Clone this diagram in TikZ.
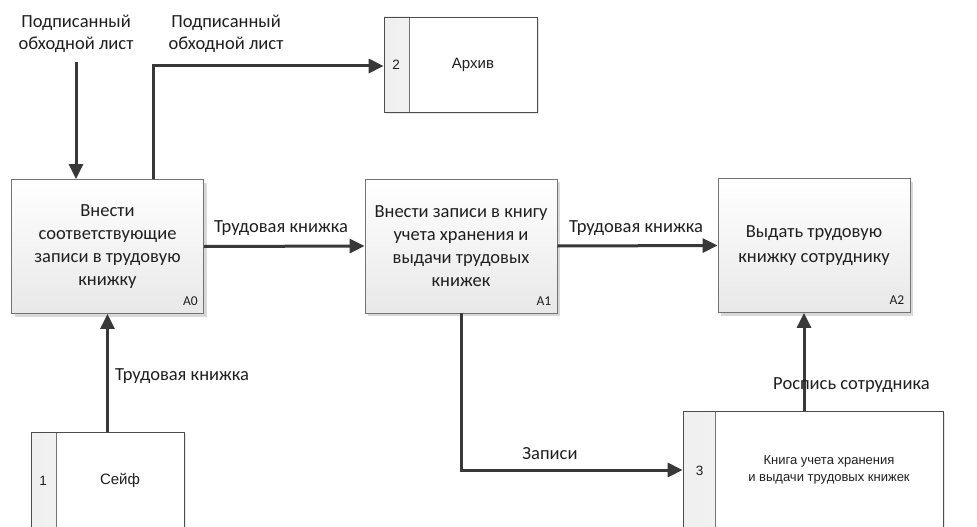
\documentclass[tikz,border=0pt]{standalone}
\usepackage{fontspec}
\setmainfont{Carlito}
\newfontfamily\arialf{Liberation Sans}
\usetikzlibrary{arrows.meta,shadows,calc}
\tikzset{
  tabw/.store in=\tabw, tabw=25pt,
  proc/.style={draw=black!55, line width=0.8pt, top color=white, bottom color=black!9,
    minimum width=192pt, minimum height=134pt, inner sep=0pt, align=center,
    font=\fontsize{18.5}{23}\selectfont, text=black!88,
    drop shadow={shadow xshift=3pt, shadow yshift=-3pt, fill=black!30, opacity=0.5}},
  storebox/.style={draw=black!70, line width=0.7pt, fill=white, inner sep=0pt,
    path picture={
      \shade[left color=black!6, right color=black!2]
        (path picture bounding box.north west) rectangle ([xshift=\tabw]path picture bounding box.south west);
      \draw[black!55, line width=0.7pt] ([xshift=\tabw]path picture bounding box.north west) -- ([xshift=\tabw]path picture bounding box.south west);},
    drop shadow={shadow xshift=2pt, shadow yshift=-2pt, fill=black!25, opacity=0.4}},
  idlab/.style={font=\fontsize{13.5}{13.5}\selectfont, text=black!88, inner sep=0pt},
  numlab/.style={font=\arialf\fontsize{13.5}{13.5}\selectfont, text=black!88, inner sep=0pt},
  stxt/.style={font=\arialf\fontsize{15}{18}\selectfont, text=black!88, inner sep=0pt, align=center},
  stxtsm/.style={font=\arialf\fontsize{13}{17}\selectfont, text=black!88, inner sep=0pt, align=center},
  lab/.style={font=\fontsize{18.5}{22}\selectfont, text=black!88, inner sep=0pt, align=center},
  arr/.style={draw=black!78, line width=3pt, -{Triangle[length=15pt,width=14pt]}},
}
\begin{document}
\begin{tikzpicture}[x=1pt,y=-1pt]
\fill[white] (0,0) rectangle (977,527);
\useasboundingbox (0,0) rectangle (977,527);

% process boxes
\node[proc] (a0) at (107.5,246.5) {Внести\\соответствующие\\записи в трудовую\\книжку};
\node[proc] (a1) at (461,246) {Внести записи в книгу\\учета хранения и\\выдачи трудовых\\книжек};
\node[proc, font=\fontsize{18.5}{25}\selectfont] (a2) at (814,245.5) {Выдать трудовую\\книжку сотруднику};
\node[idlab, anchor=south east] (a0id) at ($(a0.south east)+(-6,-8)$) {A0};
\node[idlab, anchor=south east] (a1id) at ($(a1.south east)+(-6,-8)$) {A1};
\node[idlab, anchor=south east] (a2id) at ($(a2.south east)+(-6,-8)$) {A2};

% stores
\node[storebox, tabw=25pt, minimum width=153pt, minimum height=95pt] (s2) at (460.5,64.5) {};
\node[numlab] (s2n) at ($(s2.west)+(12.5,0.5)$) {2};
\node[stxt] (s2t) at ($(s2.center)+(12.5,0)$) {Архив};

\node[storebox, tabw=25pt, minimum width=153pt, minimum height=96pt] (s1) at (107.5,480) {};
\node[numlab] (s1n) at ($(s1.west)+(12.5,0.5)$) {1};
\node[stxt] (s1t) at ($(s1.center)+(12.5,0)$) {Сейф};

\node[storebox, tabw=32pt, minimum width=260pt, minimum height=118pt] (s3) at (813,470) {};
\node[numlab] (s3n) at ($(s3.west)+(17,0.5)$) {3};
\node[stxtsm] (s3t) at ($(s3.center)+(16,0)$) {Книга учета хранения\\и выдачи трудовых книжек};

% connectors
\coordinate (c0) at (76,62);
\draw[arr] (c0) -- (c0 |- a0.north);
\node[lab] (l0) at (76,34) {Подписанный\\обходной лист};

\coordinate (c1) at (153,66);
\draw[arr] (c1 |- a0.north) -- (c1) -- (c1 -| s2.west);
\node[lab] (l1) at (226,34) {Подписанный\\обходной лист};

\draw[arr] (a0.east) -- (a1.west);
\node[lab] (l2) at (281,228) {Трудовая книжка};

\draw[arr] (a1.east) -- (a2.west);
\node[lab] (l3) at (636,228) {Трудовая книжка};

\draw[arr] (s1.north) -- (a0.south);
\node[lab, anchor=west] (l4) at (115,376) {Трудовая книжка};

\draw[arr] (a1.south) |- (s3.west);
\node[lab] (l5) at (550,454) {Записи};

\coordinate (c3) at (804,0);
\draw[arr] (c3 |- s3.north) -- (c3 |- a2.south);
\node[lab, anchor=west] (l6) at (773,385) {Роспись сотрудника};
\end{tikzpicture}
\end{document}
